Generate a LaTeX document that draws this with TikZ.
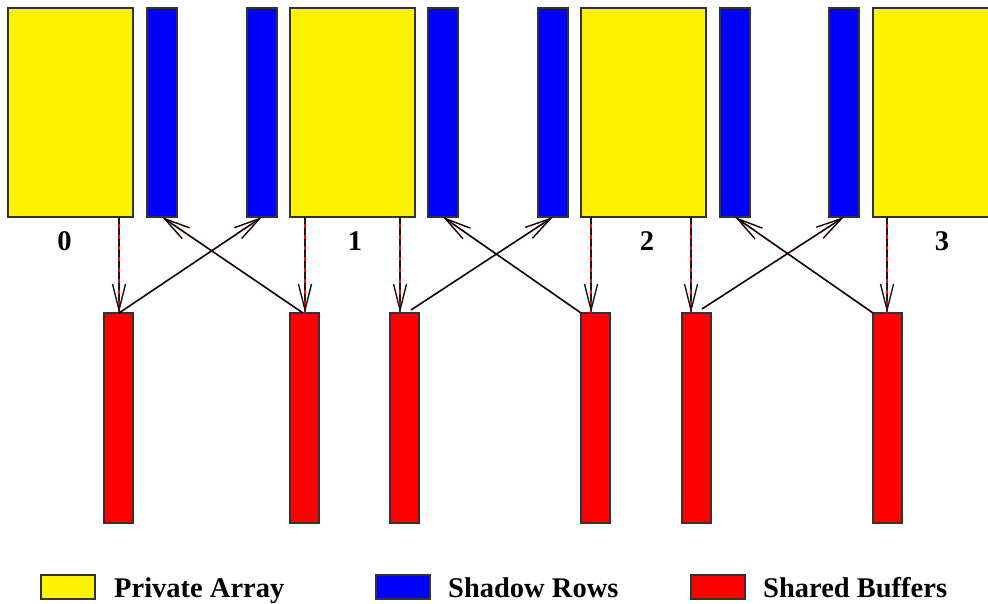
\documentclass[tikz,border=0pt]{standalone}
\usepackage{fontspec}
\setmainfont{Liberation Serif}
\usetikzlibrary{arrows.meta,calc}
\begin{document}
\begin{tikzpicture}[x=1pt,y=-1pt,
  box/.style={draw=black!80,line width=1.3pt,inner sep=0pt,outer sep=0pt,anchor=north west},
  ybox/.style={box,fill=yellow,minimum width=125pt,minimum height=209pt},
  bbox/.style={box,fill=blue,minimum width=30pt,minimum height=209pt},
  rbox/.style={box,fill=red,minimum width=29pt,minimum height=210pt},
  lgbox/.style={box,minimum width=54pt,minimum height=24pt},
  tip/.style={-{Straight Barb[length=26pt,width=13pt,line width=1.4pt]}},
  conn/.style={tip,line width=1.6pt,draw=black!90!red},
  redline/.style={draw=red,line width=1.2pt},
  dashblk/.style={tip,draw=black!90,line width=1.8pt,dash pattern=on 7pt off 4pt},
  lbl/.style={font=\fontsize{28.5}{32}\selectfont\bfseries,inner sep=0pt}]
\useasboundingbox (0,0) rectangle (988,604);
% private arrays
\node[ybox] (y0) at (8,8) {};
\node[ybox] (y1) at (290,8) {};
\node[ybox] (y2) at (581,8) {};
\node[ybox,minimum width=130pt] (y3) at (873,8) {};
% shadow rows
\node[bbox] (b0) at (147,8) {};
\node[bbox] (b1) at (247,8) {};
\node[bbox] (b2) at (428,8) {};
\node[bbox] (b3) at (538,8) {};
\node[bbox] (b4) at (720,8) {};
\node[bbox] (b5) at (829,8) {};
% shared buffers
\node[rbox] (r0) at (104,313) {};
\node[rbox] (r1) at (290,313) {};
\node[rbox] (r2) at (390,313) {};
\node[rbox] (r3) at (581,313) {};
\node[rbox] (r4) at (682,313) {};
\node[rbox] (r5) at (873,313) {};
% labels
\node[lbl] (n0) at (64.5,241) {0};
\node[lbl] (n1) at (355,241) {1};
\node[lbl] (n2) at (647,241) {2};
\node[lbl] (n3) at (942,241) {3};
% dashed arrow targets
\coordinate (d0) at ([xshift=0.5pt]r0.north);
\coordinate (d1) at ([xshift=0.5pt]r1.north);
\coordinate (d2) at ([xshift=-4.5pt]r2.north);
\coordinate (d3) at ([xshift=-4.5pt]r3.north);
\coordinate (d4) at ([xshift=-5.5pt]r4.north);
\coordinate (d5) at ([xshift=-0.5pt]r5.north);
\draw[redline] (d0 |- y0.south) -- (d0);
\draw[redline] (d1 |- y1.south) -- (d1);
\draw[redline] (d2 |- y1.south) -- (d2);
\draw[redline] (d3 |- y2.south) -- (d3);
\draw[redline] (d4 |- y2.south) -- (d4);
\draw[redline] (d5 |- y3.south) -- (d5);
\draw[dashblk] (d0 |- y0.south) -- (d0);
\draw[dashblk] (d1 |- y1.south) -- (d1);
\draw[dashblk] (d2 |- y1.south) -- (d2);
\draw[dashblk] (d3 |- y2.south) -- (d3);
\draw[dashblk] (d4 |- y2.south) -- (d4);
\draw[dashblk] (d5 |- y3.south) -- (d5);
% crossing arrows
\draw[conn] (d0) -- (b1.south);
\draw[conn] ([xshift=-1.5pt]r1.north) -- (b0.south);
\draw[conn] ([xshift=6.5pt,yshift=3pt]r2.north) -- (b3.south);
\draw[conn] (r3.north west) -- (b2.south);
\draw[conn] ([xshift=5.5pt,yshift=4pt]r4.north) -- (b5.south);
\draw[conn] (r5.north west) -- (b4.south);
% legend
\node[lgbox,fill=yellow] (ly) at (41,575) {};
\node[lgbox,fill=blue] (lb) at (376,575) {};
\node[lgbox,fill=red] (lr) at (691,575) {};
\node[lbl,anchor=base west] (ty) at (114,597) {Private Array};
\node[lbl,anchor=base west] (tb) at (448,597) {Shadow Rows};
\node[lbl,anchor=base west] (tr) at (763,597) {Shared Buffers};
\end{tikzpicture}
\end{document}
